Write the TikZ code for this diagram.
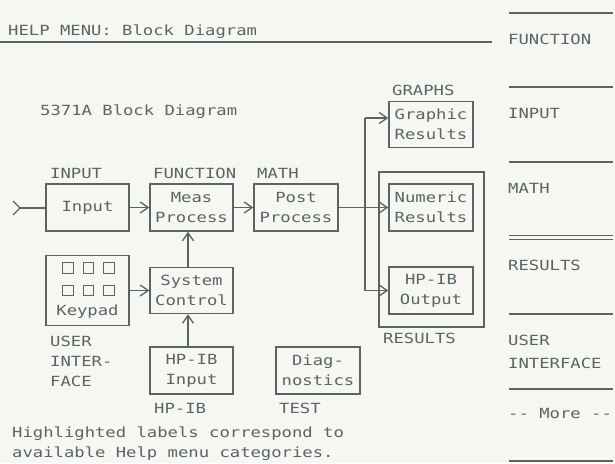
\documentclass[tikz,border=0pt]{standalone}
\usepackage{fontspec}
\newfontfamily\hpfont[FakeStretch=1.23]{DejaVu Sans Mono}
\usetikzlibrary{arrows.meta}
\definecolor{inkc}{RGB}{88,102,97}
\definecolor{bgc}{RGB}{246,247,242}
\begin{document}
\begin{tikzpicture}[x=1pt,y=-1pt,
  every node/.style={font=\hpfont\fontsize{14}{20}\selectfont, text=inkc},
  ink/.style={draw=inkc, line width=1.4pt},
  blk/.style={draw=inkc, line width=1.4pt, minimum width=83pt, minimum height=47pt, inner sep=0pt, align=center},
  lbl/.style={anchor=base west, inner sep=0pt},
  arr/.style={draw=inkc, line width=1.3pt, -{Straight Barb[length=8pt,width=11pt]}},
  keysq/.style={draw=inkc, line width=1.3pt, minimum size=10.5pt, inner sep=0pt},
  menuline/.style={draw=inkc, line width=1.6pt}]
\fill[bgc] (0,0) rectangle (615,463);
\useasboundingbox (0,0) rectangle (615,463);

% header
\node[lbl] (title) at (8,35) {HELP MENU: Block Diagram};
\coordinate (hl1) at (0,42);
\coordinate (hl2) at (492,42);
\draw[menuline] (hl1) -- (hl2);
\node[lbl] (sub) at (40,115) {5371A Block Diagram};

% blocks
\node[blk] (input) at (87.5,207.5) {Input};
\node[blk] (meas) at (191.5,207.5) {Meas\\Process};
\node[blk, minimum width=84pt] (post) at (296,207.5) {Post\\Process};
\node[blk, minimum width=84pt, minimum height=46pt] (graphic) at (431,124.5) {Graphic\\Results};
\node[draw=inkc, line width=1.4pt, minimum width=105pt, minimum height=155pt, inner sep=0pt] (resbox) at (431.5,249.5) {};
\node[blk, minimum width=84pt] (numeric) at (431,207.5) {Numeric\\Results};
\node[blk, minimum width=84pt] (hpout) at (431,290.5) {HP-IB\\Output};
\node[blk, minimum height=70pt] (keypad) at (87.5,290.5) {};
\node[inner sep=0pt] (keytxt) at (87.5,312) {Keypad};
\node[keysq] (k1) at (68,268) {};
\node[keysq] (k2) at (88.5,268) {};
\node[keysq] (k3) at (109,268) {};
\node[keysq] (k4) at (68,290.5) {};
\node[keysq] (k5) at (88.5,290.5) {};
\node[keysq] (k6) at (109,290.5) {};
\node[blk, minimum height=46pt] (sys) at (191.5,290.5) {System\\Control};
\node[blk] (hpin) at (191.5,370.5) {HP-IB\\Input};
\node[blk, minimum width=84pt] (diag) at (318,370.5) {Diag-\\nostics};

% labels
\node[lbl] (linput) at (50,178) {INPUT};
\node[lbl] (lfunc) at (153,178) {FUNCTION};
\node[lbl] (lmath) at (257,178) {MATH};
\node[lbl] (lgraph) at (392,95) {GRAPHS};
\node[lbl] (lres) at (383,343) {RESULTS};
\node[lbl] (luser1) at (50,346) {USER};
\node[lbl] (luser2) at (50,366) {INTER-};
\node[lbl] (luser3) at (50,386) {FACE};
\node[lbl] (lhpib) at (154,413) {HP-IB};
\node[lbl] (ltest) at (279,413) {TEST};
\node[lbl] (note1) at (12,437) {Highlighted labels correspond to};
\node[lbl] (note2) at (12,457) {available Help menu categories.};

% connectors
\coordinate (inA) at (13,201);
\coordinate (inB) at (13,215);
\coordinate (inTip) at (20,208);
\draw[ink, line width=1.3pt] (inA) -- (inTip) -- (inB);
\draw[ink, line width=1.3pt] (inTip) -- (input.west |- inTip);
\draw[arr] (input) -- (meas);
\draw[arr] (meas) -- (post);
\draw[arr] (post) -- (numeric);
\coordinate (sp1) at (365,118);
\coordinate (sp2) at (365,290.5);
\draw[ink, line width=1.3pt] (sp1) -- (sp2);
\draw[arr] (sp1) -- (sp1 -| graphic.west);
\draw[arr] (sp2) -- (hpout.west);
\draw[arr] (keypad) -- (sys);
\draw[arr] ([xshift=-3.5pt]sys.north) -- ([xshift=-3.5pt]meas.south);
\draw[arr] ([xshift=-3.5pt]hpin.north) -- ([xshift=-3.5pt]sys.south);

% right menu
\foreach \yy/\nm in {13/m1,87/m2,162/m3,235.5/m4a,239.5/m4b,314/m5,389/m6,461/m7}{
  \coordinate (\nm l) at (509,\yy);
  \coordinate (\nm r) at (613,\yy);
  \draw[menuline] (\nm l) -- (\nm r);
}
\node[lbl] (rfunc) at (508,44) {FUNCTION};
\node[lbl] (rinput) at (508,118) {INPUT};
\node[lbl] (rmath) at (508,193) {MATH};
\node[lbl] (rres) at (508,270) {RESULTS};
\node[lbl] (ruser1) at (508,345) {USER};
\node[lbl] (ruser2) at (508,368) {INTERFACE};
\node[lbl] (rmore) at (508,418) {-{}- More -{}-};
\end{tikzpicture}
\end{document}
